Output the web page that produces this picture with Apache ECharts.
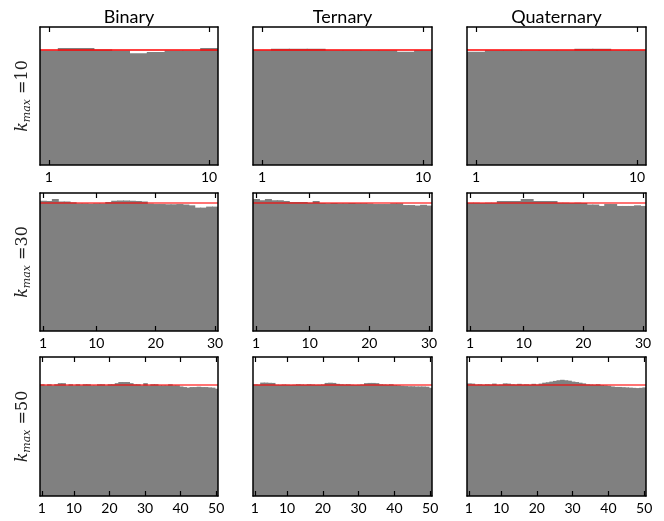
<!DOCTYPE html>
<html>
<head>
<meta charset="utf-8">
<script src="https://cdn.jsdelivr.net/npm/echarts@6/dist/echarts.min.js"></script>
<style>
html, body { margin: 0; padding: 0; background: #fff; }
#chart { width: 664px; height: 521px; }
</style>
</head>
<body>
<div id="chart"></div>
<script>
// column titles and row labels
const columns = ['Binary', 'Ternary', 'Quaternary']
const kmaxValues = [10, 30, 50]
const tickValues = [[1, 10], [1, 10, 20, 30], [1, 10, 20, 30, 40, 50]]

// bin heights relative to the uniform level (red line = 1)
const binary10 = [0.995, 1.017, 1.017, 1.005, 0.995, 0.972, 0.982, 0.995, 0.995, 1.017]
const ternary10 = [0.997, 1.010, 1.010, 1.010, 0.997, 0.997, 0.997, 0.997, 0.985, 0.997]
const quaternary10 = [0.985, 0.998, 0.998, 0.998, 0.998, 0.998, 1.010, 1.010, 0.998, 0.998]

const binary30 = [1.016, 1.013, 1.029, 1.010, 1.010, 1.003, 0.995, 0.995, 0.993, 0.995,
  0.995, 1.005, 1.016, 1.018, 1.018, 1.016, 1.014, 1.010, 0.993, 0.990,
  0.990, 0.988, 0.988, 0.990, 0.986, 0.980, 0.962, 0.962, 0.970, 0.970]
const ternary30 = [1.029, 1.020, 1.029, 1.020, 1.020, 1.013, 1.005, 1.005, 1.005, 1.000,
  1.013, 0.998, 0.996, 0.998, 0.996, 0.996, 0.998, 0.996, 0.996, 0.994,
  0.990, 0.990, 0.990, 0.995, 0.995, 0.982, 0.982, 0.978, 0.984, 0.978]
const quaternary30 = [1.000, 1.000, 0.998, 1.000, 1.000, 1.013, 1.013, 1.013, 1.013, 1.029,
  1.029, 1.013, 1.013, 1.013, 1.013, 1.000, 1.000, 0.998, 1.000, 0.998,
  0.986, 0.986, 0.975, 0.990, 0.990, 0.975, 0.975, 0.975, 0.980, 0.975]

const binary50 = [1.000, 0.990, 1.000, 0.990, 1.000, 1.010, 1.010, 0.990, 1.000, 0.990,
  1.000, 0.990, 1.000, 1.000, 0.990, 0.990, 1.000, 1.000, 0.990, 1.000,
  1.000, 1.010, 1.020, 1.020, 1.020, 1.010, 1.000, 1.000, 0.990, 1.010,
  0.990, 1.000, 1.000, 0.990, 0.990, 0.990, 1.000, 0.990, 0.990, 0.980,
  0.975, 0.970, 0.975, 0.975, 0.978, 0.975, 0.975, 0.972, 0.970, 0.960]
const ternary50 = [1.000, 0.998, 1.015, 1.015, 1.013, 1.012, 0.996, 0.995, 0.998, 0.996,
  0.994, 0.996, 1.000, 0.998, 0.996, 1.000, 0.998, 0.995, 0.996, 0.998,
  1.012, 1.014, 1.012, 1.004, 1.000, 0.998, 1.000, 0.996, 0.994, 0.996,
  0.998, 1.010, 1.012, 1.012, 1.010, 1.000, 0.998, 0.996, 1.000, 0.992,
  0.990, 0.986, 0.984, 0.982, 0.982, 0.980, 0.980, 0.980, 0.978, 0.968]
const quaternary50 = [1.008, 1.006, 0.998, 1.000, 0.996, 1.000, 0.998, 1.006, 0.996, 0.998,
  1.008, 1.006, 1.000, 0.998, 1.004, 0.998, 1.000, 0.996, 1.004, 0.998,
  1.006, 1.014, 1.018, 1.024, 1.030, 1.036, 1.040, 1.036, 1.032, 1.024,
  1.020, 1.014, 1.008, 1.000, 0.998, 0.996, 1.000, 0.992, 0.990, 0.986,
  0.980, 0.976, 0.976, 0.974, 0.972, 0.970, 0.968, 0.966, 0.968, 0.972]

const panels = [
  [binary10, ternary10, quaternary10],
  [binary30, ternary30, quaternary30],
  [binary50, ternary50, quaternary50]
]
const uniformLevel = 1

// layout (pixels)
const colLeft = [40, 253, 467]
const colWidth = [178, 179, 179]
const rowTop = [27, 193, 357]
const rowHeight = [138, 138, 139]
const rowYMax = [1.2, 1.076, 1.244]
const lineStyles = [
  { width: 1.5, opacity: 1 },
  { width: 2, opacity: 0.55 },
  { width: 2, opacity: 0.55 }
]

const grid = []
const xAxis = []
const yAxis = []
const series = []

// histogram bin: one unit wide, centred on its index (1px overlap hides seams)
function renderBin(params, api) {
  const x = api.value(0)
  const topLeft = api.coord([x - 0.5, api.value(1)])
  const bottomRight = api.coord([x + 0.5, 0])
  return {
    type: 'rect',
    shape: { x: topLeft[0], y: topLeft[1], width: bottomRight[0] - topLeft[0] + 1, height: bottomRight[1] - topLeft[1] },
    style: { fill: '#808080' }
  }
}

panels.forEach((row, r) => {
  row.forEach((values, c) => {
    const g = grid.length
    const k = kmaxValues[r]
    grid.push({ left: colLeft[c], top: rowTop[r], width: colWidth[c], height: rowHeight[r] })

    const baseX = {
      type: 'value', gridIndex: g, min: 0.5, max: k + 0.5, z: 10,
      axisLine: { show: true, onZero: false, lineStyle: { color: '#000', width: 1.5 } },
      axisTick: { show: true, inside: true, length: 5, customValues: tickValues[r], lineStyle: { color: '#000', width: 1.2 } },
      splitLine: { show: false }
    }
    xAxis.push({
      ...baseX, position: 'bottom',
      axisLabel: { show: true, customValues: tickValues[r], margin: 5, color: '#000', fontSize: 14, fontFamily: 'Lato' }
    })
    xAxis.push({ ...baseX, position: 'top', axisLabel: { show: false } })

    const baseY = {
      type: 'value', gridIndex: g, min: 0, max: rowYMax[r], z: 10,
      axisLine: { show: true, onZero: false, lineStyle: { color: '#000', width: 1.5 } },
      axisTick: { show: false }, axisLabel: { show: false }, splitLine: { show: false }
    }
    const leftY = { ...baseY, position: 'left' }
    if (c === 0) {
      Object.assign(leftY, {
        name: '{k|k}{sub|max}{eq| =' + k + '}',
        nameLocation: 'middle', nameRotate: 90, nameGap: 7,
        nameTextStyle: {
          rich: {
            k: { fontFamily: 'DejaVu Serif', fontStyle: 'italic', fontSize: 16, color: '#222' },
            sub: { fontFamily: 'DejaVu Serif', fontStyle: 'italic', fontSize: 11, color: '#222', padding: [10, 0, 0, 0] },
            eq: { fontFamily: 'DejaVu Serif', fontSize: 16, color: '#222' }
          }
        }
      })
    }
    yAxis.push(leftY)
    yAxis.push({ ...baseY, position: 'right' })

    series.push({
      type: 'custom',
      xAxisIndex: g * 2,
      yAxisIndex: g * 2,
      renderItem: renderBin,
      clip: true,
      encode: { x: 0, y: 1 },
      data: values.map((v, i) => [i + 1, v]),
      markLine: {
        silent: true, symbol: 'none', label: { show: false },
        lineStyle: { color: '#ff0000', type: 'solid', width: lineStyles[r].width, opacity: lineStyles[r].opacity },
        data: [{ yAxis: uniformLevel }]
      }
    })
  })
})

const title = columns.map((name, c) => ({
  text: name,
  left: colLeft[c] + colWidth[c] / 2 - 5,
  top: 3,
  textAlign: 'center',
  textStyle: { fontFamily: 'Lato', fontWeight: 'normal', fontSize: 18, color: '#000' }
}))

const chart = echarts.init(document.getElementById('chart'), null, { renderer: 'canvas' })
chart.setOption({ animation: false, title, grid, xAxis, yAxis, series })
</script>
</body>
</html>
